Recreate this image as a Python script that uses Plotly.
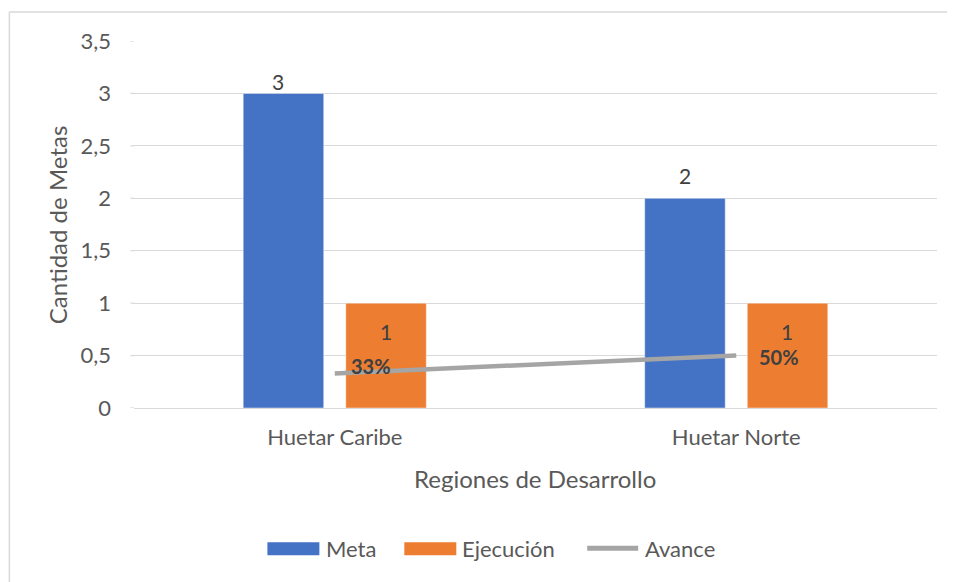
import plotly.graph_objects as go

# ---- data ----
regiones = ["Huetar Caribe", "Huetar Norte"]
meta = [3, 2]
ejecucion = [1, 1]
avance = [0.33, 0.50]
avance_labels = ["33%", "50%"]
y_ticks = [0, 0.5, 1, 1.5, 2, 2.5, 3, 3.5]

# ---- label placement (styling, pixel offsets) ----
meta_lbl_shift = [(-6, 12), (0, 23)]
avance_lbl_shift = [(36, 7), (43, -1)]

# ---- geometry (page pixels; page body has an 8px margin) ----
OFF = 8
W, H = 955, 582
PL, PR, PT, PB = 133.5, 937, 41, 408.5          # plot area in page pixels
ML = PL - OFF
MR = W - (PR - OFF)
MT = PT - OFF
MB = H - (PB - OFF)
PW = PR - PL
PH = PB - PT


def px(x):
    return (x - PL) / PW


def py(y):
    return (PB - y) / PH


FONT = "Lato, Carlito, Calibri, 'Open Sans', sans-serif"
BLUE = "#4472C4"
ORANGE = "#ED7D31"
GRAY = "#A5A5A5"
TXT = "#595959"
LBL = "#404040"
BAR_OFF = 51  # half distance between the two grouped bar centres

fig = go.Figure()
fig.add_trace(go.Bar(
    name="Meta", x=regiones, y=meta, marker_color=BLUE,
    marker_line=dict(color="rgba(255,255,255,0.45)", width=1),
    showlegend=False,
))
fig.add_trace(go.Bar(
    name="Ejecución", x=regiones, y=ejecucion, marker_color=ORANGE,
    marker_line=dict(color="rgba(255,255,255,0.45)", width=1),
    showlegend=False,
))
fig.add_trace(go.Scatter(
    name="Avance", x=regiones, y=avance, mode="lines",
    line=dict(color=GRAY, width=4.5), showlegend=False,
))

# labels above blue bars
for r, v, (dx, dy) in zip(regiones, meta, meta_lbl_shift):
    fig.add_annotation(x=r, y=v, text=str(v), showarrow=False, xshift=-BAR_OFF + dx, yshift=dy,
                       yanchor="middle", font=dict(family=FONT, size=21, color=LBL))
# labels inside orange bars (inside end)
for r, v in zip(regiones, ejecucion):
    fig.add_annotation(x=r, y=v, text=str(v), showarrow=False, xshift=BAR_OFF, yshift=-28,
                       yanchor="middle", font=dict(family=FONT, size=21, color=LBL))
# labels for avance line (right of points)
for r, v, t, (dx, dy) in zip(regiones, avance, avance_labels, avance_lbl_shift):
    fig.add_annotation(x=r, y=v, text="<b>" + t + "</b>", showarrow=False, xshift=dx, yshift=dy,
                       yanchor="middle", font=dict(family=FONT, size=20, color=LBL))

# axis titles
fig.add_annotation(xref="paper", yref="paper", x=px(535), y=py(479), text="Regiones de Desarrollo",
                   showarrow=False, xanchor="center", yanchor="middle",
                   font=dict(family=FONT, size=24, color=TXT))
fig.add_annotation(xref="paper", yref="paper", x=px(57), y=py(225), text="Cantidad de Metas",
                   showarrow=False, textangle=-90, xanchor="center", yanchor="middle",
                   font=dict(family=FONT, size=24, color=TXT))

# custom legend
shapes = []
shapes.append(dict(type="rect", xref="paper", yref="paper", x0=px(267), x1=px(319),
                   y0=py(556), y1=py(543), fillcolor=BLUE, line=dict(width=0)))
shapes.append(dict(type="rect", xref="paper", yref="paper", x0=px(404), x1=px(456),
                   y0=py(556), y1=py(543), fillcolor=ORANGE, line=dict(width=0)))
shapes.append(dict(type="line", xref="paper", yref="paper", x0=px(587), x1=px(638),
                   y0=py(549), y1=py(549), line=dict(color=GRAY, width=5)))
# chart border (top and left visible)
shapes.append(dict(type="line", xref="paper", yref="paper", x0=px(8.8), x1=px(970),
                   y0=py(12), y1=py(12), line=dict(color="#D9D9D9", width=1.5)))
shapes.append(dict(type="line", xref="paper", yref="paper", x0=px(8.8), x1=px(8.8),
                   y0=py(12), y1=py(600), line=dict(color="#D9D9D9", width=1.5)))
# gridline extension to match the chart's plot-area left edge
for t in y_ticks:
    shapes.append(dict(type="line", xref="paper", yref="y", x0=px(130), x1=0, y0=t, y1=t,
                       line=dict(color="#D9D9D9", width=1.3)))
for xx, t in [(324, "Meta"), (460, "Ejecución"), (643, "Avance")]:
    fig.add_annotation(xref="paper", yref="paper", x=px(xx), y=py(549), text=t,
                       showarrow=False, xanchor="left", yanchor="middle",
                       font=dict(family=FONT, size=22, color=TXT))

fig.update_layout(
    width=W, height=H,
    margin=dict(l=ML, r=MR, t=MT, b=MB, autoexpand=False),
    paper_bgcolor="white", plot_bgcolor="white",
    barmode="group", bargap=0.489, bargroupgap=0.215,
    separators=", ",
    shapes=shapes,
    font=dict(family=FONT, color=TXT),
    xaxis=dict(showgrid=False, showline=False, zeroline=False, ticks="",
               tickfont=dict(family=FONT, size=22, color=TXT), ticklabelstandoff=14),
    yaxis=dict(range=[0, 3.5], tickvals=y_ticks, showgrid=True, gridcolor="#D9D9D9",
               gridwidth=1.3, zeroline=True, zerolinecolor="#D9D9D9", zerolinewidth=1.3,
               showline=False, ticks="", tickfont=dict(family=FONT, size=22, color=TXT),
               ticklabelstandoff=22),
)

fig.write_html("out.html")
